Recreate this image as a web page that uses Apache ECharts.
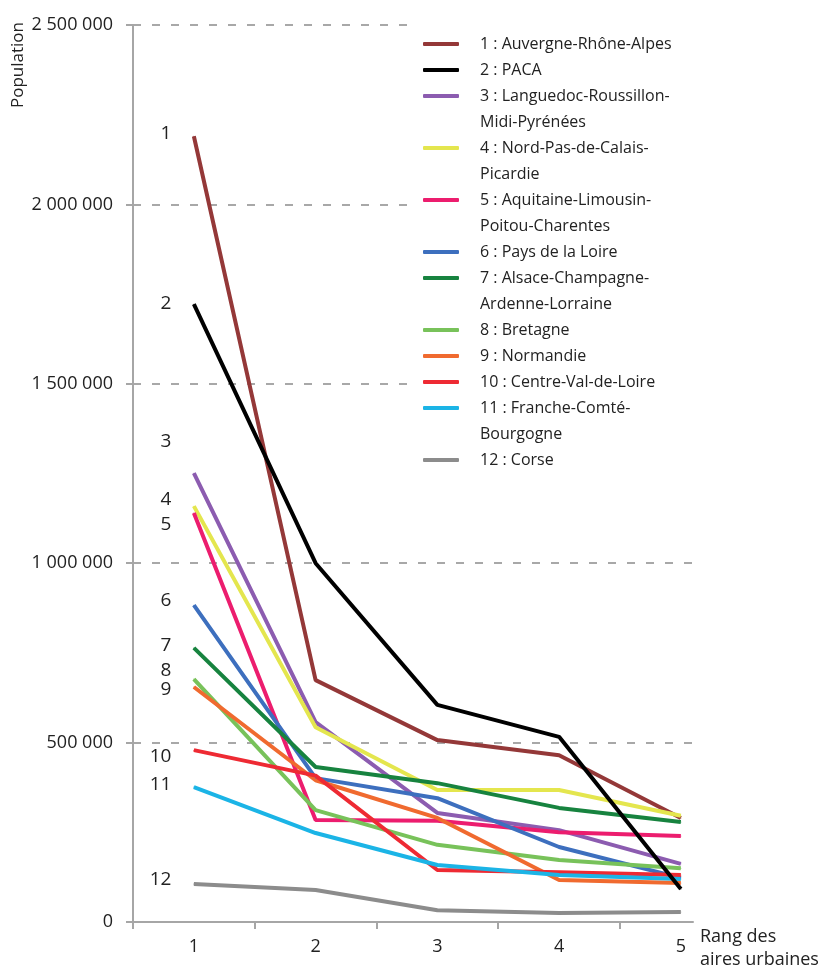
<!DOCTYPE html>
<html>
<head>
<meta charset="utf-8">
<title>Population des aires urbaines selon le rang</title>
<script src="https://cdn.jsdelivr.net/npm/echarts@6/dist/echarts.min.js"></script>
<style>
  html, body { margin: 0; padding: 0; background: #fff; }
  #chart { width: 819px; height: 968px; }
</style>
</head>
<body>
<div id="chart"></div>
<script>
// rang des aires urbaines (axe x)
const ranks = [1, 2, 3, 4, 5];
const yTicks = [0, 500000, 1000000, 1500000, 2000000, 2500000];

const regions = [
  "Auvergne-Rhône-Alpes",
  "PACA",
  "Languedoc-Roussillon-\nMidi-Pyrénées",
  "Nord-Pas-de-Calais-\nPicardie",
  "Aquitaine-Limousin-\nPoitou-Charentes",
  "Pays de la Loire",
  "Alsace-Champagne-\nArdenne-Lorraine",
  "Bretagne",
  "Normandie",
  "Centre-Val-de-Loire",
  "Franche-Comté-\nBourgogne",
  "Corse",
];

// population des 5 premières aires urbaines, par région
const auvergne = [2190000, 674000, 507000, 465000, 290000];
const paca = [1722000, 1000000, 605000, 516000, 92000];
const languedoc = [1251000, 557000, 304000, 256000, 162000];
const nordPicardie = [1159000, 543000, 368000, 368000, 296000];
const aquitaine = [1140000, 284000, 282000, 250000, 240000];
const paysLoire = [883000, 401000, 345000, 209000, 123000];
const alsace = [764000, 432000, 387000, 318000, 279000];
const bretagne = [677000, 312000, 215000, 173000, 150000];
const normandie = [655000, 395000, 290000, 117000, 109000];
const centre = [479000, 408000, 145000, 139000, 131000];
const francheComte = [376000, 248000, 159000, 131000, 120000];
const corse = [106000, 89000, 33000, 25000, 28000];

const values = [
  auvergne, paca, languedoc, nordPicardie, aquitaine, paysLoire,
  alsace, bretagne, normandie, centre, francheComte, corse,
];

const colors = [
  "#943838", "#000000", "#8C5CB0", "#E4E64E", "#EC1D6E", "#3D6FBE",
  "#17833F", "#78C25A", "#F06A2F", "#EE2A33", "#1BB4E6", "#8C8C8C",
];

// petit décalage vertical des numéros à gauche des courbes
const labelShift = [-3, -1, -32, -7, 12, -5, -2, -8, 3, 6, -2, -4];

const FONT = "'Open Sans', sans-serif";
const AXIS_GRAY = "#A6A6A6";

const chart = echarts.init(document.getElementById("chart"));

const names = regions.map((r, i) => `${i + 1} : ${r}`);

const series = names.map((name, i) => ({
  name,
  type: "line",
  z: i === 1 ? 4 : 2,
  symbol: "circle",
  symbolSize: 1,
  lineStyle: { color: colors[i], width: 4 },
  itemStyle: { color: colors[i] },
  data: values[i].map((v, j) =>
    j === 0
      ? {
          value: [ranks[j], v],
          label: {
            show: true,
            position: "left",
            distance: 22,
            offset: [0, labelShift[i]],
            formatter: String(i + 1),
            color: "#222",
            fontSize: 19,
            fontFamily: FONT,
          },
        }
      : [ranks[j], v]
  ),
  animation: false,
}));

// une légende par entrée : le texte sur deux lignes reçoit une ligne vide
// en tête pour que l'icône reste alignée sur la première ligne
const legends = [];
let line = 0;
names.forEach((name) => {
  const n = name.split("\n").length;
  const center = 44 + 26 * line;
  legends.push({
    data: [name],
    left: 423,
    top: center - (2 * n - 1) * 13,
    orient: "vertical",
    padding: 0,
    icon: "roundRect",
    itemWidth: 36,
    itemHeight: 4,
    selectedMode: false,
    formatter: (t) => "\n".repeat(n - 1) + t,
    textStyle: {
      color: "#222",
      fontSize: 16,
      fontFamily: FONT,
      lineHeight: 26,
      padding: [0, 0, 0, 16],
    },
  });
  line += n;
});

chart.setOption({
  animation: false,
  grid: { left: 133, right: 126, top: 25, bottom: 46, outerBoundsMode: "none" },
  xAxis: {
    type: "value",
    min: 0.5,
    max: 5.1,
    name: "Rang des\naires urbaines",
    nameLocation: "end",
    nameGap: 7,
    nameTextStyle: {
      color: "#222",
      fontSize: 18,
      fontFamily: FONT,
      lineHeight: 23,
      align: "left",
      verticalAlign: "top",
      padding: [3, 0, 0, 0],
    },
    axisLine: { show: true, lineStyle: { color: AXIS_GRAY, width: 2 } },
    axisTick: {
      show: true,
      length: 7,
      customValues: ranks.map((r) => r - 0.5),
      lineStyle: { color: AXIS_GRAY, width: 2 },
    },
    axisLabel: {
      customValues: ranks,
      color: "#222",
      fontSize: 18,
      fontFamily: FONT,
      margin: 16,
    },
    splitLine: { show: false },
  },
  yAxis: {
    type: "value",
    min: yTicks[0],
    max: yTicks[yTicks.length - 1],
    interval: 500000,
    axisLine: { show: true, lineStyle: { color: AXIS_GRAY, width: 2 } },
    axisTick: { show: true, length: 7, lineStyle: { color: AXIS_GRAY, width: 2 } },
    axisLabel: {
      color: "#222",
      fontSize: 18,
      fontFamily: FONT,
      margin: 20,
      formatter: (v) => String(v).replace(/\B(?=(\d{3})+(?!\d))/g, " "),
    },
    splitLine: {
      show: true,
      lineStyle: { color: "#8C8C8C", width: 1.5, type: [8, 11] },
    },
  },
  legend: legends,
  graphic: [
    {
      type: "rect",
      left: 413,
      top: 0,
      z: 1,
      shape: { width: 406, height: 480 },
      style: { fill: "#fff" },
    },
    {
      type: "text",
      left: 10,
      top: 22,
      rotation: Math.PI / 2,
      style: { text: "Population", fontSize: 17, fontFamily: FONT, fill: "#222" },
    },
  ],
  series,
});
</script>
</body>
</html>
